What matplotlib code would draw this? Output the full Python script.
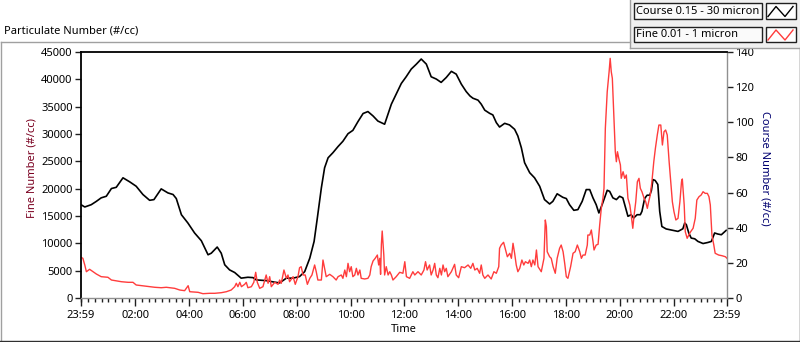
import matplotlib
matplotlib.use("Agg")
import matplotlib.pyplot as plt
from matplotlib.patches import Rectangle
from matplotlib.lines import Line2D

plt.rcParams['font.family'] = ['Noto Sans', 'DejaVu Sans']

# ---------------- data (hours since 23:59) ----------------
course_t = [0.00, 0.14, 0.38, 0.57, 0.75, 0.94, 1.13, 1.31, 1.56, 1.81, 2.05, 2.30, 2.55, 2.71, 2.98,
            3.23, 3.42, 3.54, 3.73, 3.97, 4.22, 4.47, 4.72, 4.84, 5.06, 5.21, 5.34, 5.52, 5.71, 5.95,
            6.20, 6.39, 6.51, 6.88, 7.20, 7.38, 7.63, 7.88, 8.12, 8.31, 8.50, 8.66, 8.78, 8.93, 9.05,
            9.18, 9.36, 9.55, 9.73, 9.92, 10.10, 10.29, 10.48, 10.66, 10.85, 11.03, 11.28, 11.53, 11.71,
            11.90, 12.08, 12.27, 12.46, 12.64, 12.83, 13.01, 13.20, 13.38, 13.57, 13.76, 13.94, 14.13,
            14.31, 14.45, 14.56, 14.75, 14.87, 15.00, 15.18, 15.30, 15.43, 15.55, 15.74, 15.92, 16.11,
            16.23, 16.36, 16.48, 16.67, 16.85, 17.04, 17.22, 17.41, 17.53, 17.69, 17.90, 18.03, 18.15,
            18.31, 18.46, 18.62, 18.77, 18.90, 19.02, 19.14, 19.24, 19.37, 19.55, 19.64, 19.76, 19.89,
            20.01, 20.13, 20.20, 20.32, 20.44, 20.53, 20.66, 20.78, 20.84, 20.94, 21.03, 21.13, 21.19,
            21.25, 21.33, 21.43, 21.50, 21.58, 21.74, 21.99, 22.18, 22.36, 22.43, 22.49, 22.58, 22.67,
            22.80, 22.92, 23.11, 23.29, 23.42, 23.54, 23.66, 23.79, 23.97]
course_v = [53.1, 51.8, 53.1, 55.0, 57.0, 57.9, 62.3, 63.0, 68.4, 66.1, 63.6, 58.9, 55.6, 56.0, 62.1,
            59.8, 58.9, 56.6, 47.4, 42.7, 37.0, 32.6, 24.6, 25.5, 29.0, 25.5, 18.9, 16.0, 14.5, 11.3,
            11.8, 11.6, 10.3, 9.9, 9.0, 8.6, 11.3, 11.3, 12.2, 15.0, 22.7, 32.2, 45.5, 62.7, 74.1,
            79.8, 82.7, 86.2, 89.2, 93.5, 95.4, 100.4, 105.0, 106.1, 103.6, 100.7, 98.9, 110.3, 116.0,
            122.1, 125.9, 130.3, 133.1, 136.0, 133.1, 125.9, 124.6, 122.7, 125.5, 129.0, 127.4, 121.7,
            117.5, 115.0, 113.7, 112.6, 110.3, 106.9, 105.1, 104.2, 99.8, 97.3, 99.4, 98.5, 96.0,
            92.2, 85.5, 77.0, 71.3, 68.4, 63.6, 56.0, 53.5, 55.0, 59.3, 57.3, 56.6, 53.1,
            49.9, 50.3, 55.0, 61.7, 61.7, 57.0, 53.1, 48.4, 53.5, 61.3, 60.7, 57.0, 56.0,
            57.9, 57.0, 53.1, 46.5, 47.4, 45.5, 47.4, 47.4, 49.3, 56.6, 58.5, 58.5, 61.1,
            67.4, 66.9, 64.6, 49.3, 40.7, 39.3, 38.5, 37.9, 39.4, 42.7, 41.7, 37.0, 34.1,
            33.7, 32.2, 31.0, 31.6, 32.2, 37.0, 36.4, 36.0, 38.5]

fine_t = [0.00, 0.07, 0.14, 0.20, 0.32, 0.45, 0.57, 0.75, 1.00, 1.13, 1.50, 1.75, 1.93, 2.05, 2.37,
          2.74, 2.98, 3.17, 3.48, 3.67, 3.85, 3.98, 4.04, 4.35, 4.53, 4.78, 4.97, 5.21, 5.40, 5.58,
          5.71, 5.77, 5.83, 5.90, 5.96, 6.08, 6.14, 6.20, 6.33, 6.42, 6.49, 6.55, 6.64, 6.76, 6.88,
          6.95, 7.01, 7.07, 7.20, 7.32, 7.38, 7.44, 7.54, 7.63, 7.69, 7.75, 7.88, 7.96, 8.06, 8.12,
          8.18, 8.25, 8.33, 8.41, 8.50, 8.58, 8.68, 8.74, 8.80, 8.93, 8.99, 9.05, 9.11, 9.24, 9.36,
          9.48, 9.55, 9.67, 9.73, 9.80, 9.86, 9.92, 9.98, 10.04, 10.10, 10.17, 10.23, 10.29, 10.36,
          10.41, 10.54, 10.66, 10.73, 10.78, 10.85, 10.93, 11.01, 11.06, 11.10, 11.13, 11.16, 11.19,
          11.25, 11.28, 11.34, 11.41, 11.47, 11.53, 11.59, 11.71, 11.84, 11.96, 12.03, 12.09, 12.21,
          12.33, 12.40, 12.52, 12.64, 12.74, 12.80, 12.86, 12.95, 13.01, 13.08, 13.14, 13.20, 13.26,
          13.33, 13.39, 13.45, 13.51, 13.57, 13.63, 13.76, 13.88, 13.94, 14.03, 14.13, 14.25, 14.38,
          14.48, 14.56, 14.63, 14.72, 14.81, 14.87, 14.93, 15.00, 15.12, 15.24, 15.34, 15.43, 15.52,
          15.55, 15.61, 15.70, 15.76, 15.84, 15.93, 15.99, 16.05, 16.11, 16.17, 16.23, 16.30, 16.38,
          16.45, 16.51, 16.61, 16.67, 16.73, 16.79, 16.86, 16.92, 16.98, 17.10, 17.20, 17.25, 17.29,
          17.32, 17.41, 17.47, 17.54, 17.62, 17.69, 17.78, 17.84, 17.91, 17.97, 18.03, 18.09, 18.19,
          18.28, 18.36, 18.44, 18.53, 18.59, 18.65, 18.73, 18.81, 18.83, 18.90, 18.96, 19.02, 19.06,
          19.14, 19.21, 19.27, 19.33, 19.39, 19.43, 19.48, 19.55, 19.62, 19.66, 19.70, 19.74, 19.79,
          19.85, 19.89, 19.93, 19.98, 20.04, 20.07, 20.14, 20.20, 20.26, 20.32, 20.39, 20.44, 20.50,
          20.55, 20.61, 20.67, 20.73, 20.78, 20.84, 20.92, 20.98, 21.04, 21.09, 21.15, 21.21, 21.28,
          21.34, 21.41, 21.47, 21.54, 21.60, 21.66, 21.72, 21.78, 21.85, 21.91, 21.97, 22.03, 22.10,
          22.18, 22.25, 22.31, 22.34, 22.41, 22.45, 22.52, 22.58, 22.65, 22.74, 22.82, 22.88, 22.96,
          23.04, 23.11, 23.19, 23.27, 23.33, 23.38, 23.44, 23.51, 23.56, 23.69, 23.81, 23.94, 24.00]
fine_v = [7440, 7260, 6040, 4810, 5250, 4810, 4390, 3900, 3790, 3290, 2980, 2870, 2870, 2380, 2190,
          1960, 1880, 1960, 1770, 1460, 1340, 2250, 1150, 1040, 790, 860, 860, 970, 1150, 1460,
          2070, 2690, 2070, 2870, 2070, 2500, 2870, 1880, 2070, 2870, 4700, 2870, 1770, 2070, 4210,
          2690, 3900, 2070, 2870, 2500, 3290, 2690, 5120, 3600, 4210, 2980, 3900, 2500, 3900, 5540,
          5730, 4210, 4210, 2500, 3600, 4210, 6040, 4810, 3290, 3290, 6950, 5430, 3900, 4330, 3900,
          3290, 3900, 4210, 3600, 5120, 3900, 6340, 4810, 5730, 3900, 4210, 5430, 4210, 5120,
          3600, 3480, 3600, 4210, 5730, 6770, 7260, 7860, 6040, 7260, 4330, 9820, 12250,
          7860, 4210, 5730, 4210, 4810, 4210, 3290, 3900, 4700, 4520, 6640, 3900, 3600,
          4810, 4210, 4810, 4210, 5120, 6640, 5120, 6040, 4210, 5120, 6340, 4210, 3710,
          5430, 4210, 6040, 4810, 5430, 3900, 4810, 6160, 4210, 3710, 5730, 5540, 6040,
          5430, 6340, 5120, 5430, 4520, 6040, 4210, 3600, 4210, 3480, 4810, 4520, 5730,
          9090, 9690, 10190, 9090, 7550, 8180, 7260, 10010, 8180, 6040, 4810, 5430, 6950,
          6040, 6640, 6340, 6950, 5730, 6950, 6040, 8780, 5730, 4810, 7260, 14270, 13040,
          8470, 7550, 7260, 5730, 4520, 7260, 9090, 9690, 8470, 6340, 3900, 3600, 5730,
          8180, 8470, 9690, 8470, 7260, 7860, 7860, 9690, 11520, 11520, 12440, 10370, 8780,
          9690, 9820, 13350, 16400, 18230, 20060, 31040, 37730, 41390, 43840, 41390, 40180, 34070,
          26760, 24930, 26760, 25540, 24330, 21890, 23100, 21890, 22500, 18230, 17010, 15180, 12750,
          15180, 17610, 21270, 21890, 20060, 19440, 18230, 17610, 16400, 17610, 18840, 21270, 24930,
          27380, 29810, 31640, 31640, 27990, 30420, 30730, 29810, 24930, 21270, 17610, 15790, 14270,
          14570, 17610, 21270, 21770, 17010, 12130, 10920, 11520, 12130, 12750, 14570, 17920, 18530,
          18840, 19440, 19140, 19140, 18530, 17010, 11520, 9690, 8180, 7860, 7740, 7550, 7260]

x_tick_pos = [0.0, 2.0167, 4.0167, 6.0167, 8.0167, 10.0167, 12.0167, 14.0167, 16.0167, 18.0167,
              20.0167, 22.0167, 24.0]
x_tick_labels = ['23:59', '02:00', '04:00', '06:00', '08:00', '10:00', '12:00', '14:00', '16:00',
                 '18:00', '20:00', '22:00', '23:59']
fine_ticks = list(range(0, 45001, 5000))
course_ticks = list(range(0, 141, 20))
series_names = ['Course 0.15 - 30 micron', 'Fine 0.01 - 1 micron']
series_colors = ['#000000', '#ff3c3c']

# ---------------- figure ----------------
W, H = 800, 342
fig = plt.figure(figsize=(W / 100, H / 100), dpi=100)
fig.patch.set_facecolor('white')


def fx(x):
    return x / W


def fy(y):
    return 1 - y / H


FS = 8

ax = fig.add_axes([fx(81), fy(298), fx(727) - fx(81), fy(52) - fy(298)])
ax2 = ax.twinx()
ax.set_zorder(ax2.get_zorder() + 1)
ax.patch.set_visible(False)

ax2.plot(course_t, course_v, color=series_colors[0], lw=1.2)
ax.plot(fine_t, fine_v, color=series_colors[1], lw=1.0)

ax.set_xlim(0, 24)
ax.set_ylim(0, 45000)
ax2.set_ylim(0, 140)

ax.set_xticks(x_tick_pos)
ax.set_xticklabels(x_tick_labels, fontsize=FS)
ax.set_xticks([1 / 60 + 0.25 * k for k in range(96)], minor=True)
ax.set_yticks(fine_ticks)
ax.set_yticklabels([str(v) for v in fine_ticks], fontsize=FS)
ax2.set_yticks(course_ticks)
ax2.set_yticklabels([str(v) for v in course_ticks], fontsize=FS)

ax.tick_params(axis='x', which='major', direction='out', length=6, width=1, color='#202020', pad=3)
ax.tick_params(axis='x', which='minor', direction='out', length=3, width=1, color='#202020')
ax.tick_params(axis='y', direction='out', length=4, width=1, color='#202020', pad=2)
ax2.tick_params(axis='y', direction='out', length=4, width=1, color='#202020', pad=2)

for s in ax2.spines.values():
    s.set_visible(False)
ax.spines['left'].set_color('black')
ax.spines['left'].set_linewidth(1.3)
ax.spines['top'].set_color('black')
ax.spines['top'].set_linewidth(1.3)
ax.spines['bottom'].set_color('#909090')
ax.spines['bottom'].set_linewidth(1.0)
ax.spines['right'].set_color('#909090')
ax.spines['right'].set_linewidth(1.0)

ax.set_xlabel('Time', fontsize=FS, labelpad=2)
ax.set_ylabel('Fine Number (#/cc)', fontsize=FS, color='#7a0020', va='center')
ax.yaxis.set_label_coords((32 - 81) / 646, 0.53)
ax2.set_ylabel('Course Number (#/cc)', fontsize=FS, color='#000070', rotation=270, va='center')
ax2.yaxis.set_label_coords((765 - 81) / 646, 0.525)

# outer frame
fig.add_artist(Line2D([fx(0.5), fx(630)], [fy(42), fy(42)], color='#a0a0a0', lw=1))
fig.add_artist(Line2D([fx(0.5), fx(0.5)], [fy(42), fy(341)], color='#a0a0a0', lw=1))
fig.add_artist(Line2D([fx(0), fx(800)], [fy(341), fy(341)], color='#303030', lw=1))
fig.add_artist(Line2D([fx(799.5), fx(799.5)], [fy(48), fy(341)], color='#303030', lw=1))

fig.text(fx(4), fy(31), 'Particulate Number (#/cc)', fontsize=FS, va='center', ha='left')

# legend panel
fig.add_artist(Rectangle((fx(630), fy(48)), fx(800) - fx(630), fy(0) - fy(48),
                         facecolor='#f0f0f0', edgecolor='none'))
fig.add_artist(Line2D([fx(630), fx(630)], [fy(0), fy(48)], color='#a0a0a0', lw=1))
fig.add_artist(Line2D([fx(630), fx(800)], [fy(48), fy(48)], color='#a0a0a0', lw=1))
for i, (name, col) in enumerate(zip(series_names, series_colors)):
    y0 = 3.5 + i * 23.5
    fig.add_artist(Rectangle((fx(633.5), fy(y0 + 15)), fx(762) - fx(633.5), fy(y0) - fy(y0 + 15),
                             facecolor='#fafafa', edgecolor='#202020', lw=1))
    fig.add_artist(Rectangle((fx(766), fy(y0 + 15)), fx(795.5) - fx(766), fy(y0) - fy(y0 + 15),
                             facecolor='white', edgecolor='#202020', lw=1))
    fig.text(fx(636), fy(y0 + 7.5), name, fontsize=FS, va='center', ha='left')
    fig.add_artist(Line2D([fx(768), fx(776), fx(785), fx(793)],
                          [fy(y0 + 13), fy(y0 + 3), fy(y0 + 13), fy(y0 + 3)], color=col, lw=1))

fig.savefig('out.png', dpi=100)
